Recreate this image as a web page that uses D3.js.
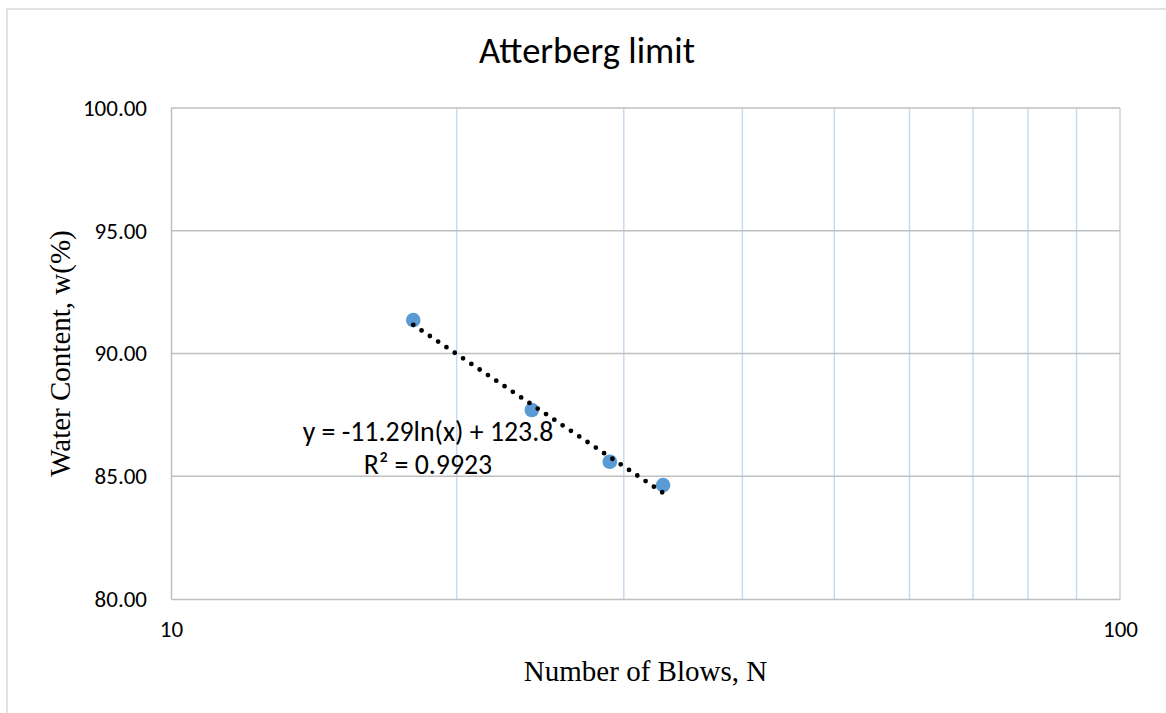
<!DOCTYPE html>
<html>
<head>
<meta charset="utf-8">
<script src="https://cdn.jsdelivr.net/npm/d3@7"></script>
<style>
  html, body { margin: 0; padding: 0; background: #ffffff; }
  svg { display: block; }
</style>
</head>
<body>
<svg id="chart" width="1166" height="713"></svg>
<script>
// ---- data ----
const blows = [18, 24, 29, 33];
const water = [91.36, 87.70, 85.59, 84.64];
const yTicks = [80, 85, 90, 95, 100];
const xTickLabels = [10, 100];
const xMinorGrid = [20, 30, 40, 50, 60, 70, 80, 90];
const trendSlope = -11.29;
const trendIntercept = 123.8;
const trendLabel = "y = -11.29ln(x) + 123.8";
const r2Label = "R\u00B2 = 0.9923";
const titleText = "Atterberg limit";
const xTitle = "Number of Blows, N";
const yTitle = "Water Content, w(%)";

// ---- layout ----
const svg = d3.select("#chart");
const plot = { left: 171, right: 1120, top: 108, bottom: 599 };
const sansFont = "Carlito, Lato, 'Noto Sans', sans-serif";
const serifFont = "'Liberation Serif', 'Times New Roman', serif";

const x = d3.scaleLog().domain([10, 100]).range([plot.left, plot.right]);
const y = d3.scaleLinear().domain([80, 100]).range([plot.bottom, plot.top]);

// chart area border
svg.append("rect")
  .attr("x", 7).attr("y", 9)
  .attr("width", 1162).attr("height", 720)
  .attr("fill", "#ffffff")
  .attr("stroke", "#d9d9d9").attr("stroke-width", 1.5);

// minor vertical gridlines (light blue)
svg.append("g").selectAll("line").data(xMinorGrid).join("line")
  .attr("x1", d => x(d)).attr("x2", d => x(d))
  .attr("y1", plot.top).attr("y2", plot.bottom)
  .attr("stroke", "#c6dbef").attr("stroke-width", 1.5);

// right border
svg.append("line")
  .attr("x1", x(100)).attr("x2", x(100))
  .attr("y1", plot.top).attr("y2", plot.bottom)
  .attr("stroke", "#d0d0d0").attr("stroke-width", 1.5);

// horizontal major gridlines
svg.append("g").selectAll("line").data(yTicks.slice(1)).join("line")
  .attr("x1", plot.left).attr("x2", plot.right)
  .attr("y1", d => y(d)).attr("y2", d => y(d))
  .attr("stroke", "#bfbfbf").attr("stroke-width", 1.5);

// y axis
const yAxis = svg.append("g")
  .attr("transform", `translate(${plot.left},0)`)
  .call(d3.axisLeft(y).tickValues(yTicks).tickFormat(d3.format(".2f")).tickSize(0).tickPadding(24));
yAxis.select(".domain").attr("stroke", "#bfbfbf").attr("stroke-width", 1.5);
yAxis.selectAll("text")
  .attr("font-family", sansFont).attr("font-size", 23).attr("fill", "#000")
  .attr("dy", "0.32em");

// x axis
const xAxis = svg.append("g")
  .attr("transform", `translate(0,${plot.bottom})`)
  .call(d3.axisBottom(x).tickValues(xTickLabels).tickFormat(d3.format("d")).tickSize(0).tickPadding(22));
xAxis.select(".domain").attr("stroke", "#bfbfbf").attr("stroke-width", 1.5);
xAxis.selectAll("text")
  .attr("font-family", sansFont).attr("font-size", 23).attr("fill", "#000");

// points
svg.append("g").selectAll("circle").data(blows.map((b, i) => [b, water[i]])).join("circle")
  .attr("cx", d => x(d[0])).attr("cy", d => y(d[1]))
  .attr("r", 7.3)
  .attr("fill", "#5b9bd5");

// trendline (dotted, drawn above markers)
const xMin = d3.min(blows), xMax = d3.max(blows);
const trendPts = [xMin, xMax].map(n => [n, trendSlope * Math.log(n) + trendIntercept]);
svg.append("path")
  .attr("d", d3.line().x(d => x(d[0])).y(d => y(d[1]))(trendPts))
  .attr("fill", "none")
  .attr("stroke", "#000")
  .attr("stroke-width", 4.8)
  .attr("stroke-linecap", "round")
  .attr("stroke-dasharray", "0 10");

// trendline label
const lbl = svg.append("text")
  .attr("font-family", sansFont).attr("font-size", 27.8).attr("fill", "#000")
  .attr("text-anchor", "middle");
lbl.append("tspan").attr("x", 428).attr("y", 441).text(trendLabel);
lbl.append("tspan").attr("x", 428).attr("y", 474).text(r2Label);

// title
svg.append("text")
  .attr("x", 587).attr("y", 63)
  .attr("text-anchor", "middle")
  .attr("font-family", sansFont).attr("font-size", 36.6).attr("fill", "#000")
  .text(titleText);

// axis titles
svg.append("text")
  .attr("x", (plot.left + plot.right) / 2).attr("y", 681)
  .attr("text-anchor", "middle")
  .attr("font-family", serifFont).attr("font-size", 29).attr("fill", "#000")
  .text(xTitle);

svg.append("text")
  .attr("transform", `translate(70,${(plot.top + plot.bottom) / 2}) rotate(-90)`)
  .attr("text-anchor", "middle")
  .attr("font-family", serifFont).attr("font-size", 29).attr("fill", "#000")
  .text(yTitle);
</script>
</body>
</html>
